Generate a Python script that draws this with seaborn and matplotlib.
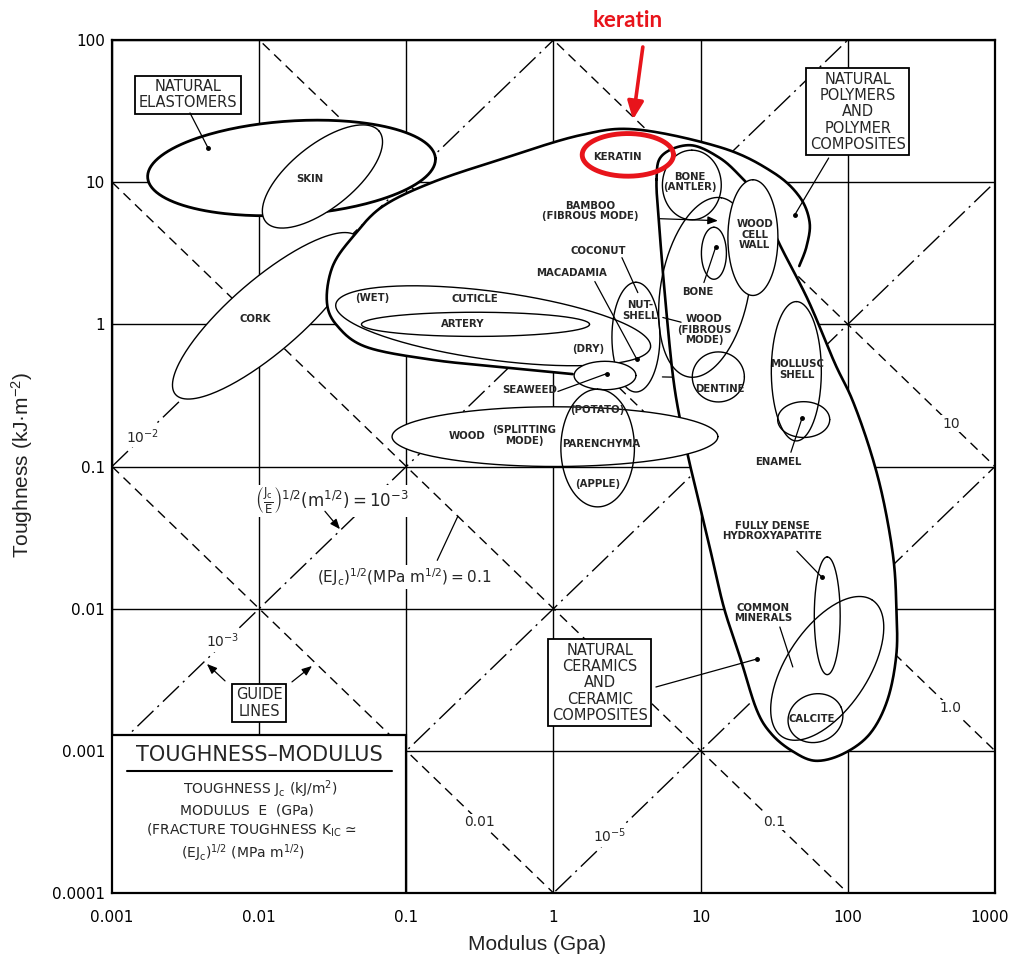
import numpy as np
import pandas as pd
import matplotlib
matplotlib.use('Agg')
import matplotlib.pyplot as plt
import matplotlib.transforms as mtransforms
import seaborn as sns

# guide line constants
frac_tough = [0.01, 0.1, 1.0, 10.0]      # (E Jc)^1/2 [MPa m^1/2]  ->  Jc = K^2 / E
ratio_jc_e = [1e-2, 1e-3, 1e-4, 1e-5]    # (Jc/E)^1/2 [m^1/2]      ->  Jc = (1e3 R)^2 E

x_ticks = [0.001, 0.01, 0.1, 1, 10, 100, 1000]
x_tick_labels = ['0.001', '0.01', '0.1', '1', '10', '100', '1000']
y_ticks = [0.0001, 0.001, 0.01, 0.1, 1, 10, 100]
y_tick_labels = ['0.0001', '0.001', '0.01', '0.1', '1', '10', '100']

# material bubbles: log10 E centre, log10 Jc centre, semi-axes (decades), tilt (deg)
bub_name = ['cork', 'elastomers', 'skin', 'cuticle', 'artery', 'nutshell', 'seaweed',
            'wood_split', 'parenchyma', 'antler', 'wood_fibre', 'bone', 'cell_wall',
            'dentine', 'mollusc', 'enamel', 'hydroxyapatite', 'minerals', 'calcite']
bub_logE = [-1.95, -1.78, -1.57, -0.41, -0.53, 0.56, 0.35, 0.01, 0.30, 0.94, 1.03,
            1.09, 1.355, 1.12, 1.65, 1.70, 1.86, 1.86, 1.78]
bub_logJ = [0.06, 1.10, 1.04, -0.01, 0.00, -0.09, -0.36, -0.79, -0.87, 0.98, 0.26,
            0.50, 0.61, -0.37, -0.33, -0.67, -2.05, -2.42, -2.77]
bub_a = [0.83, 0.98, 0.50, 1.08, 0.775, 0.386, 0.21, 1.107, 0.414, 0.245, 0.64,
         0.183, 0.407, 0.177, 0.49, 0.177, 0.414, 0.57, 0.19]
bub_b = [0.25, 0.33, 0.22, 0.24, 0.085, 0.163, 0.10, 0.21, 0.25, 0.20, 0.30,
         0.085, 0.17, 0.176, 0.17, 0.126, 0.088, 0.28, 0.168]
bub_tilt = [42, 4, 40, -8, 0, 90, 0, 0, 90, 90, 80, 90, 90, 0, 90, 0, 90, 58, 25]
bub_filled = ['cork', 'elastomers', 'skin', 'seaweed', 'wood_split', 'cell_wall']
bub_thick = ['elastomers']
bub_early = ['cork', 'elastomers', 'skin']   # drawn before the envelopes

# envelopes (log10 E, log10 Jc)
polymer_env = [(0.13, -0.35), (-0.36, -0.30), (-0.82, -0.25), (-1.27, -0.16), (-1.47, -0.01),
               (-1.54, 0.16), (-1.50, 0.41), (-1.36, 0.62), (-1.16, 0.83), (-0.82, 1.00),
               (-0.36, 1.16), (0.18, 1.33), (0.57, 1.37), (1.15, 1.24), (1.49, 1.07),
               (1.67, 0.90), (1.74, 0.72), (1.72, 0.55), (1.67, 0.41)]
polymer_close = [(1.40, -0.04), (1.00, -0.39), (0.59, -0.44), (0.35, -0.44)]
ceramic_env = [(0.70, 1.02), (0.74, 1.19), (0.93, 1.26), (1.13, 1.17), (1.28, 1.03),
               (1.44, 0.84), (1.52, 0.60), (1.73, 0.17), (1.91, -0.27), (2.03, -0.53),
               (2.15, -0.88), (2.24, -1.23), (2.31, -1.65), (2.33, -2.00), (2.33, -2.32),
               (2.27, -2.64), (2.15, -2.88), (1.97, -3.02), (1.78, -3.07), (1.62, -3.00),
               (1.48, -2.88), (1.38, -2.71), (1.27, -2.35), (1.16, -2.00), (1.08, -1.65),
               (1.00, -1.30), (0.93, -1.00), (0.86, -0.67), (0.81, -0.35), (0.76, 0.17),
               (0.72, 0.67)]

# text labels
mat_labels = [('SKIN', -1.655, 1.024), ('CORK', -2.029, 0.034), ('(WET)', -1.234, 0.188),
              ('CUTICLE', -0.534, 0.181), ('ARTERY', -0.615, 0.0), ('(DRY)', 0.234, -0.17),
              ('SEAWEED', -0.16, -0.465), ('WOOD', -0.588, -0.788),
              ('(SPLITTING\nMODE)', -0.201, -0.781), ('(POTATO)', 0.295, -0.605),
              ('PARENCHYMA', 0.322, -0.844), ('(APPLE)', 0.302, -1.125),
              ('KERATIN', 0.431, 1.178), ('BONE\n(ANTLER)', 0.927, 1.003),
              ('BAMBOO\n(FIBROUS MODE)', 0.247, 0.799), ('COCONUT', 0.302, 0.518),
              ('MACADAMIA', 0.125, 0.364), ('NUT-\nSHELL', 0.587, 0.097),
              ('WOOD\n(FIBROUS\nMODE)', 1.022, -0.037), ('BONE', 0.981, 0.23),
              ('WOOD\nCELL\nWALL', 1.368, 0.631), ('DENTINE', 1.13, -0.458),
              ('MOLLUSC\nSHELL', 1.654, -0.317), ('ENAMEL', 1.531, -0.971),
              ('FULLY DENSE\nHYDROXYAPATITE', 1.484, -1.455),
              ('COMMON\nMINERALS', 1.423, -2.031), ('CALCITE', 1.755, -2.775)]
box_labels = [('NATURAL\nELASTOMERS', -2.484, 1.614),
              ('NATURAL\nPOLYMERS\nAND\nPOLYMER\nCOMPOSITES', 2.068, 1.494),
              ('NATURAL\nCERAMICS\nAND\nCERAMIC\nCOMPOSITES', 0.315, -2.522),
              ('GUIDE\nLINES', -2.001, -2.663)]
guide_labels = [('10$^{-2}$', -2.789, -0.788), ('10$^{-3}$', -2.246, -2.228),
                ('10$^{-5}$', 0.38, -3.60), ('0.01', -0.50, -3.50), ('0.1', 1.50, -3.50),
                ('1.0', 2.70, -2.70), ('10', 2.70, -0.70)]
formula_labels = [(r'$\left(\frac{J_c}{E}\right)^{1/2}(m^{1/2}) = 10^{-3}$', -1.505, -1.244, 12),
                  (r'$(EJ_c)^{1/2}(MPa\ m^{1/2}) = 0.1$', -1.016, -1.778, 11)]
# leaders: start, end, kind
leaders = [((-2.47, 1.487), (-2.348, 1.242), 'dot'), ((1.87, 1.17), (1.64, 0.771), 'dot'),
           ((0.696, -2.551), (1.382, -2.354), 'dot'), ((-2.232, -2.508), (-2.355, -2.389), 'arrow'),
           ((-1.777, -2.515), (-1.641, -2.403), 'arrow'), ((0.723, 0.743), (1.117, 0.729), 'arrow'),
           ((0.465, 0.469), (0.573, 0.223), 'line'), ((0.281, 0.301), (0.567, -0.247), 'dot'),
           ((0.743, 0.048), (0.867, 0.015), 'line'), ((1.022, 0.294), (1.103, 0.546), 'dot'),
           ((0.03, -0.472), (0.363, -0.346), 'dot'), ((1.613, -0.9), (1.688, -0.662), 'dot'),
           ((1.654, -1.596), (1.823, -1.778), 'dot'), ((1.538, -2.129), (1.626, -2.41), 'line'),
           ((-1.553, -1.315), (-1.451, -1.441), 'arrow'), ((-0.79, -1.66), (-0.65, -1.35), 'line')]
info_lines = [(r'TOUGHNESS J$_c$ (kJ/m$^2$)', -1.995, -3.267), ('MODULUS  E  (GPa)', -2.083, -3.421),
              (r'(FRACTURE TOUGHNESS K$_{IC}$ ≃', -2.049, -3.562),
              (r'(EJ$_c$)$^{1/2}$ (MPa m$^{1/2}$)', -2.11, -3.723)]
RED = '#e8141b'


def ellipse(cx, cy, a, b, tilt, n=240):
    t = np.linspace(0, 2 * np.pi, n)
    th = np.deg2rad(tilt)
    x = cx + a * np.cos(t) * np.cos(th) - b * np.sin(t) * np.sin(th)
    y = cy + a * np.cos(t) * np.sin(th) + b * np.sin(t) * np.cos(th)
    return 10 ** x, 10 ** y


def spline(pts, closed=False, n=24):
    P = np.array(pts, dtype=float)
    if closed:
        P = np.vstack([P[-1], P, P[0], P[1]])
    else:
        P = np.vstack([P[0], P, P[-1]])
    out = []
    t = np.linspace(0, 1, n, endpoint=False)[:, None]
    for i in range(1, len(P) - 2):
        p0, p1, p2, p3 = P[i - 1], P[i], P[i + 1], P[i + 2]
        out.append(0.5 * (2 * p1 + (-p0 + p2) * t + (2 * p0 - 5 * p1 + 4 * p2 - p3) * t ** 2
                          + (-p0 + 3 * p1 - 3 * p2 + p3) * t ** 3))
    out.append(P[-2][None])
    return np.vstack(out)


def L(v):
    return 10 ** v


sns.set_theme(style='white')
plt.rcParams['font.family'] = ['DejaVu Sans']
plt.rcParams['mathtext.default'] = 'regular'

fig = plt.figure(figsize=(10.12, 9.64), dpi=100)
ax = fig.add_axes([112 / 1012, 71 / 964, 883 / 1012, 853 / 964])
ax.set_xscale('log')
ax.set_yscale('log')

# guide lines through seaborn
rows = []
for k in frac_tough:
    for e in [1e-3, 1e3]:
        rows.append(dict(line='K%g' % k, kind='K', E=e, J=k ** 2 / e))
for r in ratio_jc_e:
    for e in [1e-3, 1e3]:
        rows.append(dict(line='R%g' % r, kind='R', E=e, J=(1e3 * r) ** 2 * e))
guides = pd.DataFrame(rows)
sns.lineplot(data=guides, x='E', y='J', units='line', style='kind',
             dashes={'K': (7, 4.5), 'R': (16, 4, 1.5, 4)}, color='black', lw=1.0,
             estimator=None, sort=False, legend=False, ax=ax, zorder=1)


def draw_bubble(i):
    x, y = ellipse(bub_logE[i], bub_logJ[i], bub_a[i], bub_b[i], bub_tilt[i])
    if bub_name[i] in bub_filled:
        ax.fill(x, y, fc='white', ec='none', zorder=2)
    ax.plot(x, y, color='black', lw=2.0 if bub_name[i] in bub_thick else 1.0, zorder=2)


for i, nm in enumerate(bub_name):
    if nm in bub_early:
        draw_bubble(i)

# polymer envelope
pe = spline(polymer_env)
pe_fill = np.vstack([pe, np.array(polymer_close)])
ax.fill(L(pe_fill[:, 0]), L(pe_fill[:, 1]), fc='white', ec='none', zorder=2)
ax.plot(L(pe[:, 0]), L(pe[:, 1]), color='black', lw=1.9, zorder=2)
ax.plot(L(np.array([0.74, 0.97])), L(np.array([-0.37, -0.375])), color='black', lw=0.9, zorder=2)

# ceramic envelope
ce = spline(ceramic_env, closed=True)
ax.fill(L(ce[:, 0]), L(ce[:, 1]), fc='white', ec='none', zorder=2)
ax.plot(L(ce[:, 0]), L(ce[:, 1]), color='black', lw=1.9, zorder=2)

for i, nm in enumerate(bub_name):
    if nm not in bub_early:
        draw_bubble(i)

# keratin highlight
kx, ky = ellipse(0.505, 1.192, 0.31, 0.15, 0)
ax.plot(kx, ky, color=RED, lw=3.5, zorder=8)
ax.text(L(0.505), L(2.14), 'keratin', color=RED, fontsize=16, fontweight='bold',
        family=['Lato', 'DejaVu Sans'], ha='center', va='center', clip_on=False, zorder=9)
ax.annotate('', xy=(L(0.54), L(1.44)), xytext=(L(0.607), L(1.951)), annotation_clip=False,
            arrowprops=dict(arrowstyle='-|>,head_width=0.4,head_length=0.9', color=RED,
                            lw=2.6, shrinkA=0, shrinkB=0), zorder=9)

# info box lower left
ax.fill([1e-3, 0.1, 0.1, 1e-3], [1e-4, 1e-4, L(-2.89), L(-2.89)], fc='white', ec='black',
        lw=1.6, zorder=4)
ax.text(L(-2.0), L(-3.03), 'TOUGHNESS–MODULUS', fontsize=15, ha='center', va='center', zorder=5)
ax.plot([L(-2.9), L(-1.1)], [L(-3.14), L(-3.14)], color='black', lw=1.5, zorder=5)
for s, lx, ly in info_lines:
    ax.text(L(lx), L(ly), s, fontsize=10, ha='center', va='center', zorder=5)

for s, lx, ly in mat_labels:
    ax.text(L(lx), L(ly), s, fontsize=7.3, fontweight='bold', ha='center', va='center',
            linespacing=1.05, zorder=6)
for s, lx, ly in box_labels:
    ax.text(L(lx), L(ly), s, fontsize=10.5, ha='center', va='center', linespacing=1.1, zorder=6,
            bbox=dict(boxstyle='square,pad=0.25', fc='white', ec='black', lw=1.3))
for s, lx, ly in guide_labels:
    ax.text(L(lx), L(ly), s, fontsize=10, ha='center', va='center', zorder=6,
            bbox=dict(boxstyle='square,pad=0.1', fc='white', ec='none'))
for s, lx, ly, fs in formula_labels:
    ax.text(L(lx), L(ly), s, fontsize=fs, ha='center', va='center', zorder=6,
            bbox=dict(boxstyle='square,pad=0.05', fc='white', ec='none'))
for (x0, y0), (x1, y1), kind in leaders:
    style = '-|>,head_width=0.2,head_length=0.5' if kind == 'arrow' else '-'
    ax.annotate('', xy=(L(x1), L(y1)), xytext=(L(x0), L(y0)),
                arrowprops=dict(arrowstyle=style, color='black', lw=0.9, shrinkA=0, shrinkB=0),
                zorder=6)
    if kind == 'dot':
        ax.plot(L(x1), L(y1), 'o', color='black', ms=2.5, zorder=6)

ax.set_xlim(1e-3, 1e3)
ax.set_ylim(1e-4, 1e2)
ax.set_xticks(x_ticks)
ax.set_xticklabels(x_tick_labels)
ax.set_yticks(y_ticks)
ax.set_yticklabels(y_tick_labels)
ax.minorticks_off()
ax.tick_params(axis='x', length=0, pad=12, labelsize=11, labelcolor='black')
ax.tick_params(axis='y', length=0, pad=5, labelsize=11, labelcolor='black')
# keep the last modulus label inside the picture
last = ax.get_xticklabels()[-1]
last.set_horizontalalignment('right')
last.set_transform(last.get_transform() + mtransforms.ScaledTranslation(14 / 100, 0, fig.dpi_scale_trans))
ax.set_xlabel('')
ax.set_ylabel('')
ax.set_axisbelow(True)
ax.grid(True, which='major', color='black', lw=1.0)
for sp in ax.spines.values():
    sp.set_color('black')
    sp.set_linewidth(1.6)

fig.text(537 / 1012, 1 - 945 / 964, 'Modulus (Gpa)', fontsize=15, family=['Liberation Sans'],
         ha='center', va='center', color='#222222')
fig.text(22 / 1012, 1 - 465 / 964, 'Toughness (kJ·m$^{-2}$)', fontsize=15,
         family=['Liberation Sans'], ha='center', va='center', rotation=90, color='#222222')

fig.savefig('out.png', dpi=100, facecolor='white')
